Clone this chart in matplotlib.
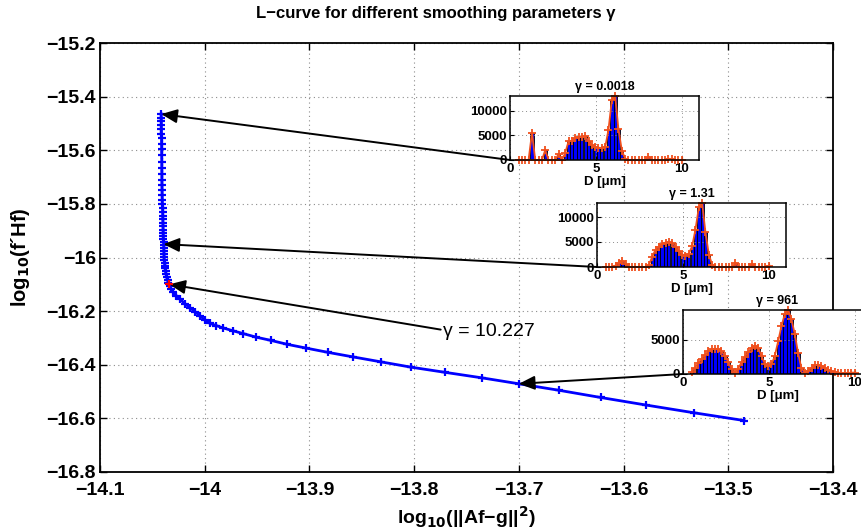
import numpy as np
from matplotlib import pyplot as plt

plt.rcParams["font.family"] = ["Liberation Sans", "DejaVu Sans"]
plt.rcParams["font.weight"] = "bold"

# L-curve points (log10 residual norm, log10 smoothness norm)
log_res = [-14.0415, -14.0415, -14.0414, -14.0414, -14.0413, -14.0413, -14.0412, -14.0412,
           -14.0411, -14.0411, -14.0410, -14.0410, -14.0409, -14.0409, -14.0408, -14.0407,
           -14.0406, -14.0405, -14.0404, -14.0403, -14.0402, -14.0401, -14.0400, -14.0399,
           -14.0398, -14.0397, -14.0396, -14.0395, -14.0394, -14.0393, -14.0392, -14.0391,
           -14.0390, -14.0389, -14.0388, -14.0386, -14.0384, -14.0381, -14.0378, -14.0374,
           -14.0369, -14.0363, -14.0355, -14.0346, -14.0334, -14.0321, -14.0302, -14.0272,
           -14.0236, -14.0190, -14.0140, -14.0090, -14.0045, -14.0000, -13.9949, -13.9889,
           -13.9822, -13.9733, -13.9630, -13.9510, -13.9370, -13.9210, -13.9030, -13.8820,
           -13.8580, -13.8320, -13.8030, -13.7710, -13.7350, -13.7000, -13.6620, -13.6220,
           -13.5790, -13.5330, -13.4850]
log_sol = [-15.465, -15.478, -15.492, -15.507, -15.522, -15.538, -15.556, -15.575,
           -15.596, -15.618, -15.642, -15.665, -15.688, -15.710, -15.730, -15.750,
           -15.768, -15.785, -15.800, -15.815, -15.830, -15.844, -15.858, -15.871,
           -15.884, -15.896, -15.908, -15.920, -15.931, -15.942, -15.953, -15.964,
           -15.975, -15.986, -15.997, -16.008, -16.019, -16.030, -16.041, -16.052,
           -16.063, -16.074, -16.085, -16.096, -16.107, -16.118, -16.130, -16.142,
           -16.155, -16.172, -16.188, -16.203, -16.218, -16.232, -16.246, -16.254,
           -16.263, -16.273, -16.284, -16.297, -16.309, -16.324, -16.338, -16.354,
           -16.371, -16.389, -16.409, -16.428, -16.449, -16.471, -16.495, -16.522,
           -16.550, -16.579, -16.608]

# chosen corner point
corner_res = -14.0338
corner_sol = -16.100
corner_label = "γ = 10.227"

# points the insets refer to
pick_res = [-14.0415, -14.0394, -13.7000]
pick_sol = [-15.465, -15.950, -16.471]
pick_titles = ["γ = 0.0018", "γ = 1.31", "γ = 961"]

# size distributions for the insets
diam = [0.50, 0.69, 0.89, 1.08, 1.28, 1.47, 1.66, 1.86, 2.05, 2.24,
        2.44, 2.63, 2.83, 3.02, 3.21, 3.41, 3.60, 3.79, 3.99, 4.18,
        4.38, 4.57, 4.76, 4.96, 5.15, 5.34, 5.54, 5.73, 5.93, 6.12,
        6.31, 6.51, 6.70, 6.89, 7.09, 7.28, 7.48, 7.67, 7.86, 8.06,
        8.25, 8.44, 8.64, 8.83, 9.03, 9.22, 9.41, 9.61, 9.80, 10.00]
dist_small = [0, 0, 0, 0, 5500, 0, 0, 0, 2000, 0,
              0, 0, 1200, 0, 1400, 3800, 3900, 4400, 4700, 4700,
              4800, 3800, 3100, 2700, 2500, 2400, 2600, 6100, 12200, 12950,
              6300, 1900, 300, 0, 0, 0, 0, 0, 0, 700,
              0, 0, 0, 0, 0, 250, 200, 0, 0, 0]
dist_mid = [0, 0, 0, 300, 900, 1300, 700, 0, 0, 0,
            0, 0, 0, 400, 2000, 3500, 4100, 4600, 4900, 5000,
            4800, 4100, 3200, 2500, 2300, 2600, 4200, 7500, 12000, 12800,
            7000, 2500, 500, 0, 0, 0, 0, 0, 0, 800,
            0, 0, 0, 0, 600, 0, 0, 0, 0, 200]
dist_big = [300, 900, 1600, 2200, 2800, 3300, 3600, 3700, 3650, 3300,
            2700, 1800, 700, 150, 800, 1700, 2500, 3200, 3800, 4150,
            3800, 2600, 1500, 1100, 1400, 2600, 4800, 7000, 8800, 9350,
            8000, 5800, 3000, 900, 200, 500, 900, 1300, 1350, 1200,
            900, 600, 400, 250, 200, 150, 150, 150, 200, 200]
dists = [dist_small, dist_mid, dist_big]

W, H = 862, 531
fig = plt.figure(figsize=(W / 100, H / 100), dpi=100)


def px_box(left, top, right, bottom):
    return [left / W, 1 - bottom / H, (right - left) / W, (bottom - top) / H]


ax = fig.add_axes(px_box(100, 43, 833, 472))
ax.plot(log_res, log_sol, color="blue", linewidth=2, marker="+", markersize=6,
        markeredgewidth=1.6, zorder=3)
ax.plot([corner_res], [corner_sol], color="red", marker="+", markersize=6,
        markeredgewidth=1.6, linestyle="none", zorder=4)

ax.set_xticks(np.arange(-14.1, -13.35, 0.1))
ax.set_yticks(np.arange(-16.8, -15.15, 0.2))
ax.set_xlim(-14.1, -13.4)
ax.set_ylim(-16.8, -15.2)
ax.set_xticklabels(["−14.1", "−14", "−13.9", "−13.8", "−13.7", "−13.6", "−13.5", "−13.4"])
ax.set_yticklabels(["−16.8", "−16.6", "−16.4", "−16.2", "−16", "−15.8", "−15.6", "−15.4", "−15.2"])
ax.tick_params(direction="in", top=True, right=True, labelsize=14, length=5, width=1)
ax.tick_params(axis="x", pad=7)
ax.tick_params(axis="y", pad=3)
ax.grid(color="0.55", linestyle=(0, (1, 3)), linewidth=0.8)
for s in ax.spines.values():
    s.set_linewidth(1.3)

ax.set_xlabel("log$_{10}$(||Af−g||$^2$)", fontsize=14, fontweight="bold", labelpad=4)
ax.set_ylabel("log$_{10}$(f´Hf)", fontsize=14.5, fontweight="bold", labelpad=10)
fig.text(0.505, 0.975, "L−curve for different smoothing parameters γ", ha="center",
         va="center", fontsize=12, fontweight="bold")

# insets with the size distributions
inset_boxes = [px_box(510, 96, 699, 160), px_box(597, 203, 786, 267), px_box(683, 310, 872, 374)]
arrow_style = dict(arrowstyle="-|>,head_length=0.8,head_width=0.35", color="black",
                   lw=1.4, mutation_scale=12, shrinkA=0, shrinkB=0)

for box, vals, title, pr, ps in zip(inset_boxes, dists, pick_titles, pick_res, pick_sol):
    ins = fig.add_axes(box)
    ins.bar(diam, vals, width=0.19, color="blue", edgecolor="black", linewidth=0.6)
    ins.plot(diam, vals, color="#f0501e", linewidth=1.3, marker="+", markersize=6,
             markeredgewidth=1.3, clip_on=False)
    ins.set_xticks([0, 5, 10])
    ins.set_yticks([0, 5000, 10000])
    ins.set_xlim(0, 11)
    ins.set_ylim(0, max(vals))
    ins.tick_params(direction="in", labelsize=9.5, length=3, pad=2)
    ins.grid(color="0.55", linestyle=(0, (1, 3)), linewidth=0.7)
    ins.set_title(title, fontsize=9, fontweight="bold", pad=4)
    ins.set_xlabel("D [μm]", fontsize=9.5, fontweight="bold", labelpad=1)
    for s in ins.spines.values():
        s.set_linewidth(1.1)
    ax.annotate("", xy=(pr, ps), xycoords="data", xytext=(0, 0), textcoords=ins,
                arrowprops=arrow_style, annotation_clip=False)

ax.annotate(corner_label, xy=(corner_res, corner_sol), xycoords="data",
            xytext=(-13.772, -16.277), textcoords="data", ha="left", va="center",
            fontsize=14, fontweight="normal",
            arrowprops=dict(arrow_style, relpos=(0, 0.6)))

plt.savefig("out.png", dpi=100)
